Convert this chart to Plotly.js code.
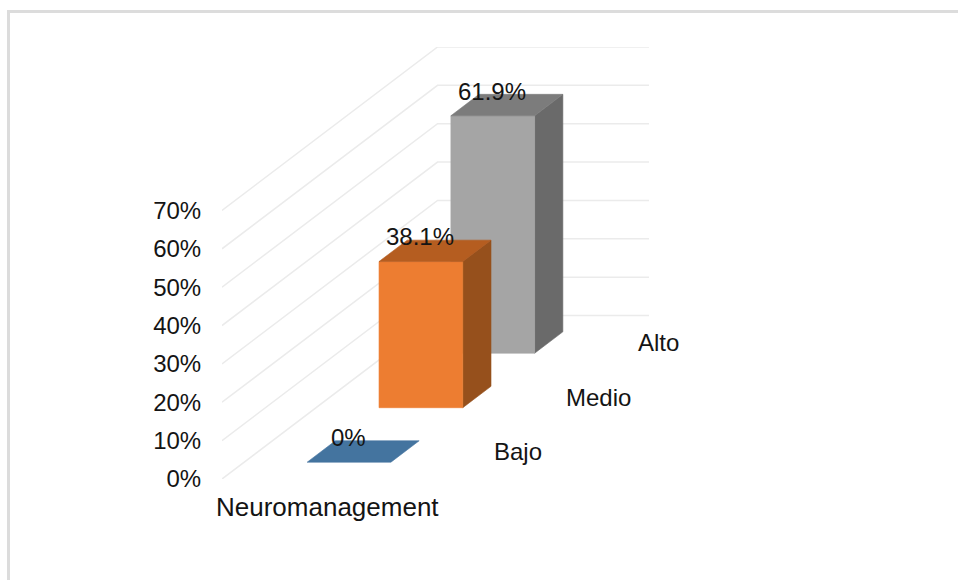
<!DOCTYPE html>
<html>
<head>
<meta charset="utf-8">
<script src="https://cdn.plot.ly/plotly-3.0.1.min.js"></script>
<style>
  html, body { margin: 0; padding: 0; background: #fff; overflow: hidden; }
  #frame { position: absolute; left: 7px; top: 10px; right: 0; bottom: 0;
           border-left: 3px solid #dcdcdc; border-top: 3px solid #dcdcdc; }
  #chart { position: absolute; left: 0; top: 0; width: 958px; height: 580px; }
</style>
</head>
<body>
<div id="frame"></div>
<div id="chart"></div>
<script>
// Survey levels, front to back
const categories = ['Bajo', 'Medio', 'Alto'];
const values = [0, 38.1, 61.9];
const valueLabels = ['0%', '38.1%', '61.9%'];
const axisTitle = 'Neuromanagement';
const tickValues = [0, 10, 20, 30, 40, 50, 60, 70];
const tickLabels = ['0%', '10%', '20%', '30%', '40%', '50%', '60%', '70%'];

const frontColors = ['#44749f', '#ed7d31', '#a5a5a5'];
const topColors = ['#44749f', '#b55d20', '#7c7c7c'];
const sideColors = ['#2f5374', '#96501c', '#6a6a6a'];

// Oblique projection of the 3D box: width u and depth d run 0..1, v is the percent value.
const DEPTH_X = 1.0194;   // x-axis units covered by the whole depth
const DEPTH_Y = 42.6;     // y-axis units covered by the whole depth
const project = (u, d, v) => [u + d * DEPTH_X, v + d * DEPTH_Y];

const BAR_LEFT = 0.298, BAR_WIDTH = 0.396, BAR_DEPTH = 0.131;
const barStart = i => (i + 0.505) / categories.length - BAR_DEPTH / 2;

function polygon(points, color) {
  const xy = points.map(p => project(p[0], p[1], p[2]));
  return {
    type: 'scatter', mode: 'lines', hoverinfo: 'skip', cliponaxis: false,
    x: xy.map(p => p[0]), y: xy.map(p => p[1]),
    fill: 'toself', fillcolor: color, line: { width: 0.6, color: color }
  };
}

const traces = [];

// Gridlines run along the side wall and then across the back wall
tickValues.forEach(v => {
  const xy = [project(0, 0, v), project(0, 1, v), project(1, 1, v)];
  traces.push({
    type: 'scatter', mode: 'lines', hoverinfo: 'skip', cliponaxis: false,
    x: xy.map(p => p[0]), y: xy.map(p => p[1]),
    line: { color: '#ebebeb', width: 1.5 }
  });
});

// Bars are painted from the back row forward so nearer ones overlap
for (let i = categories.length - 1; i >= 0; i--) {
  const v = values[i], u0 = BAR_LEFT, u1 = BAR_LEFT + BAR_WIDTH;
  const d0 = barStart(i), d1 = d0 + BAR_DEPTH;
  if (v > 0) {
    traces.push(polygon([[u1, d0, 0], [u1, d1, 0], [u1, d1, v], [u1, d0, v], [u1, d0, 0]], sideColors[i]));
    traces.push(polygon([[u0, d0, 0], [u1, d0, 0], [u1, d0, v], [u0, d0, v], [u0, d0, 0]], frontColors[i]));
  }
  traces.push(polygon([[u0, d0, v], [u1, d0, v], [u1, d1, v], [u0, d1, v], [u0, d0, v]], topColors[i]));
}

const textFont = { family: '"Liberation Sans", Arial, sans-serif', size: 24, color: '#141414' };
const annotations = [];

categories.forEach((name, i) => {
  const dMid = barStart(i) + BAR_DEPTH / 2;
  const top = project(BAR_LEFT + BAR_WIDTH / 2, dMid, values[i]);
  annotations.push({
    x: top[0], y: top[1], xref: 'x', yref: 'y', text: valueLabels[i], showarrow: false,
    xanchor: 'center', yanchor: 'middle', xshift: -15, yshift: 14, font: textFont
  });
  const floor = project(1, dMid, 0);
  annotations.push({
    x: floor[0], y: floor[1], xref: 'x', yref: 'y', text: name, showarrow: false,
    xanchor: 'left', yanchor: 'middle', xshift: 22.5, yshift: 0, font: textFont
  });
});

const front = project(0.5, 0, 0);
annotations.push({
  x: front[0], y: front[1], xref: 'x', yref: 'y', text: axisTitle, showarrow: false,
  xanchor: 'center', yanchor: 'middle', yshift: -28, xshift: -0.5,
  font: Object.assign({}, textFont, { size: 26 })
});

const layout = {
  width: 958, height: 580,
  margin: { l: 221.5, r: 309, t: 46.7, b: 100.7, pad: 0 },
  paper_bgcolor: 'rgba(0,0,0,0)', plot_bgcolor: 'rgba(0,0,0,0)',
  showlegend: false,
  xaxis: { visible: false, range: [0, 1 + DEPTH_X], fixedrange: true },
  yaxis: {
    range: [0, 70 + DEPTH_Y], fixedrange: true,
    tickmode: 'array', tickvals: tickValues, ticktext: tickLabels,
    showgrid: false, zeroline: false, showline: false,
    ticks: 'outside', ticklen: 15, tickcolor: 'rgba(0,0,0,0)',
    tickfont: textFont
  },
  annotations: annotations
};

Plotly.newPlot('chart', traces, layout, { displayModeBar: false, staticPlot: true });
</script>
</body>
</html>
